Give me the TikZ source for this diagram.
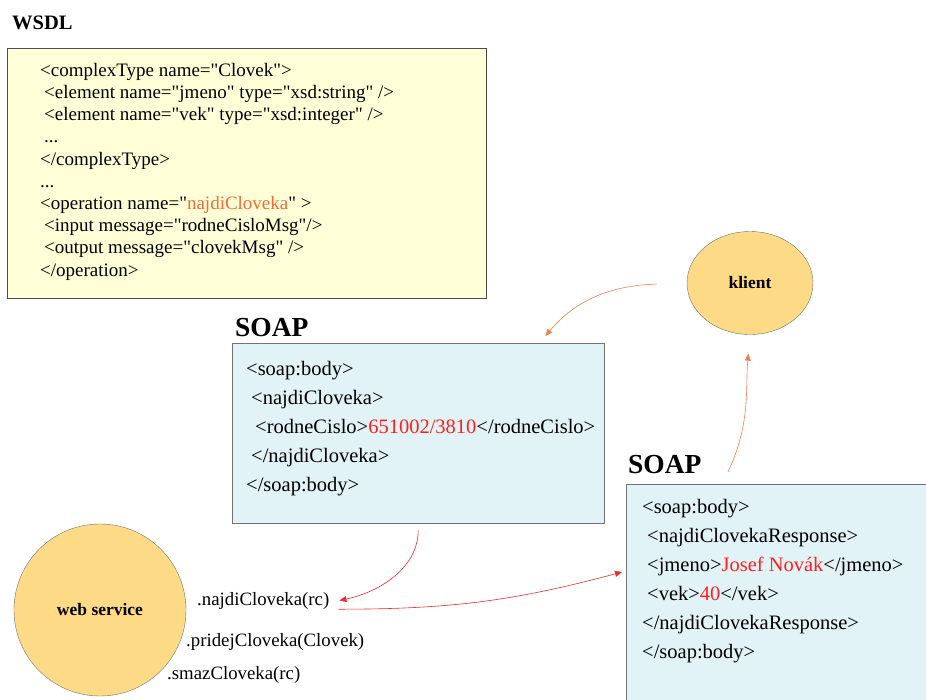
\documentclass[tikz,border=0pt]{standalone}
\usepackage{fontspec}
\setmainfont{Liberation Serif}[Ligatures=TeXOff]
\usetikzlibrary{arrows.meta,shapes.geometric}
\definecolor{wsdlFill}{HTML}{FFFFD7}
\definecolor{soapFill}{HTML}{E1F3F6}
\definecolor{actorFill}{HTML}{FDDA85}
\definecolor{callOrange}{HTML}{F4804F}
\definecolor{callRed}{HTML}{EE2A2A}
\definecolor{valRed}{HTML}{FF1F1F}
\definecolor{opOrange}{HTML}{F36B3B}

\begin{document}
\begin{tikzpicture}[x=1pt,y=1pt,
  >={Triangle[length=7pt,width=6pt]},
  heading/.style={anchor=base west,inner sep=0pt,font=\bfseries\fontsize{20.5}{24}\selectfont},
  soaphead/.style={anchor=base west,inner sep=0pt,font=\bfseries\fontsize{27.5}{32}\selectfont},
  wsdlbox/.style={rectangle,draw=black!70,fill=wsdlFill,anchor=north west,inner sep=0pt,minimum width=479pt,minimum height=250pt},
  soapbox/.style={rectangle,draw=black!55,fill=soapFill,anchor=north west,inner sep=0pt},
  wsdlcode/.style={anchor=north west,align=left,inner sep=0pt,font=\fontsize{19}{22.2}\selectfont},
  soapcode/.style={anchor=north west,align=left,inner sep=0pt,font=\fontsize{20.5}{29}\selectfont},
  actor/.style={draw=black!55,fill=actorFill,inner sep=0pt,font=\bfseries\fontsize{17.5}{21}\selectfont},
  method/.style={anchor=base west,inner sep=0pt,font=\fontsize{18.8}{22}\selectfont},
  call/.style={->,draw=callOrange,line width=0.6pt},
  reply/.style={->,draw=callRed,line width=0.6pt}
]
\useasboundingbox (0,0) rectangle (926,-699);
\clip (0,0) rectangle (926,-699);
% WSDL description
\node[heading] (wsdlTitle) at (12,-29) {WSDL};
\node[wsdlbox] (wsdl) at (7,-48) {};
\node[wsdlcode] (wsdlCode) at (40,-63) {<complexType name="Clovek">\\
  \hspace*{4pt}<element name="jmeno" type="xsd:string" />\\
  \hspace*{4pt}<element name="vek" type="xsd:integer" />\\
  \hspace*{4pt}...\\
  </complexType>\\
  ...\\
  <operation name="\textcolor{opOrange}{najdiCloveka}" >\\
  \hspace*{4pt}<input message="rodneCisloMsg"/>\\
  \hspace*{4pt}<output message="clovekMsg" />\\
  </operation>};
% SOAP request
\node[soaphead] (soapReqTitle) at (235,-336) {SOAP};
\node[soapbox,minimum width=372pt,minimum height=180pt] (soapReq) at (232,-343) {};
\node[soapcode] (soapReqCode) at (246,-361) {<soap:body>\\
  \hspace*{5pt}<najdiCloveka>\\
  \hspace*{9pt}<rodneCislo>\textcolor{valRed}{651002/3810}</rodneCislo>\\
  \hspace*{5pt}</najdiCloveka>\\
  </soap:body>};
% SOAP response
\node[soaphead] (soapRespTitle) at (628,-473) {SOAP};
\node[soapbox,minimum width=310pt,minimum height=230pt] (soapResp) at (626,-484) {};
\node[soapcode] (soapRespCode) at (642,-499) {<soap:body>\\
  \hspace*{5pt}<najdiClovekaResponse>\\
  \hspace*{5pt}<jmeno>\textcolor{valRed}{Josef Novák}</jmeno>\\
  \hspace*{5pt}<vek>\textcolor{valRed}{40}</vek>\\
  </najdiClovekaResponse>\\
  </soap:body>};
% actors
\node[actor,ellipse,minimum width=126pt,minimum height=103pt] (klient) at (750,-283) {klient};
\node[actor,circle,minimum size=172pt] (ws) at (100,-610) {web service};
\node[method] (opFind) at (197,-605) {.najdiCloveka(rc)};
\node[method] (opAdd) at (186,-646) {.pridejCloveka(Clovek)};
\node[method] (opDel) at (167,-679) {.smazCloveka(rc)};
% request goes klient -> SOAP -> web service, response back
\draw[call,shorten <=30pt] (klient.west) to[out=182,in=50] ([xshift=-59pt,yshift=7pt]soapReq.north east);
\draw[reply,shorten <=7pt] (soapReq.south) to[out=-90,in=12] ([xshift=10pt]opFind.east);
\draw[reply] ([xshift=9pt]opFind.south east) to[out=0,in=195] ([xshift=-4pt,yshift=-88pt]soapResp.north west);
\draw[call,shorten >=19pt] ([xshift=102pt,yshift=12pt]soapResp.north west) to[out=65,in=-95] (klient.south);
\end{tikzpicture}
\end{document}
